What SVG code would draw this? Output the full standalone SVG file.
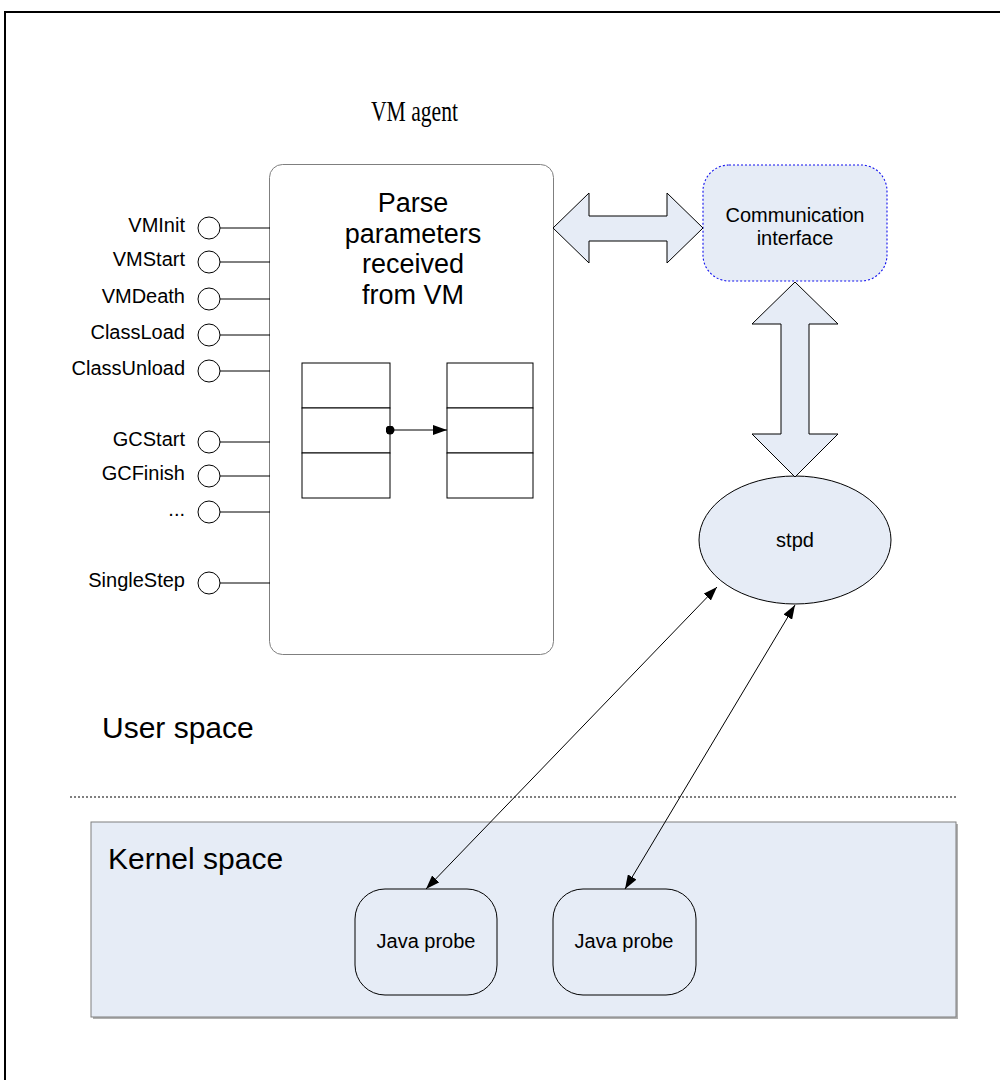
<svg xmlns="http://www.w3.org/2000/svg" width="1000" height="1080" viewBox="0 0 1000 1080">
<style>
.sans{font-family:"Liberation Sans",Arial,sans-serif;fill:#000}
.lbl{font-size:20px;text-anchor:end}
.c{text-anchor:middle}
.big{font-size:30px}
.mid{font-size:27px}
.sm{font-size:20px}
.port{fill:#fff;stroke:#000;stroke-width:1}
.wire{stroke:#000;stroke-width:1;fill:none}
.blue{fill:#E6ECF6}
.cell{fill:#fff;stroke:#000;stroke-width:1}
</style>
<defs>
<marker id="ah" viewBox="0 0 14 10" refX="14" refY="5" markerWidth="14" markerHeight="10" markerUnits="userSpaceOnUse" orient="auto-start-reverse">
<path d="M0,0 L14,5 L0,10 Z" fill="#000"/>
</marker>
<marker id="dot" viewBox="0 0 10 10" refX="5" refY="5" markerWidth="9" markerHeight="9" markerUnits="userSpaceOnUse">
<circle cx="5" cy="5" r="5" fill="#000"/>
</marker>
</defs>
<rect x="0" y="0" width="1000" height="1080" fill="#fff"/>
<rect x="5" y="12" width="1010" height="1090" fill="none" stroke="#000" stroke-width="2"/>

<text x="371" y="121" font-family="'Liberation Serif','Times New Roman',serif" font-size="29" textLength="87" lengthAdjust="spacingAndGlyphs">VM agent</text>

<g id="kernel-space">
<rect x="93" y="824" width="865" height="195" fill="#b0b0b0"/>
<rect x="91" y="822" width="865" height="195" class="blue" stroke="#7f7f7f" stroke-width="1"/>
<text x="108" y="869" class="sans big">Kernel space</text>
</g>

<text x="102" y="738" class="sans big">User space</text>
<line x1="70" y1="797" x2="956" y2="797" stroke="#000" stroke-width="1" stroke-dasharray="2,2"/>

<g id="vm-agent">
<rect x="269.5" y="164.5" width="284" height="490" rx="13" fill="#fff" stroke="#7f7f7f" stroke-width="1"/>
<text class="sans mid c" x="413"><tspan x="413" y="212">Parse</tspan><tspan x="413" y="243">parameters</tspan><tspan x="413" y="273">received</tspan><tspan x="413" y="304">from VM</tspan></text>
</g>

<g id="table-left">
<rect class="cell" x="302" y="363" width="88" height="45"/>
<rect class="cell" x="302" y="408" width="88" height="45"/>
<rect class="cell" x="302" y="453" width="88" height="45"/>
</g>
<g id="table-right">
<rect class="cell" x="447" y="363" width="86" height="45"/>
<rect class="cell" x="447" y="408" width="86" height="45"/>
<rect class="cell" x="447" y="453" width="86" height="45"/>
</g>

<g id="ports">
<g id="p-vminit"><text class="sans lbl" x="185" y="232">VMInit</text><circle class="port" cx="209" cy="228" r="11"/></g>
<g id="p-vmstart"><text class="sans lbl" x="185" y="266">VMStart</text><circle class="port" cx="209" cy="262" r="11"/></g>
<g id="p-vmdeath"><text class="sans lbl" x="185" y="303">VMDeath</text><circle class="port" cx="209" cy="299" r="11"/></g>
<g id="p-classload"><text class="sans lbl" x="185" y="339">ClassLoad</text><circle class="port" cx="209" cy="335" r="11"/></g>
<g id="p-classunload"><text class="sans lbl" x="185" y="375">ClassUnload</text><circle class="port" cx="209" cy="371" r="11"/></g>
<g id="p-gcstart"><text class="sans lbl" x="185" y="446">GCStart</text><circle class="port" cx="209" cy="442" r="11"/></g>
<g id="p-gcfinish"><text class="sans lbl" x="185" y="480">GCFinish</text><circle class="port" cx="209" cy="476" r="11"/></g>
<g id="p-more"><text class="sans lbl" x="185" y="516">...</text><circle class="port" cx="209" cy="512" r="11"/></g>
<g id="p-singlestep"><text class="sans lbl" x="185" y="587">SingleStep</text><circle class="port" cx="209" cy="583" r="11"/></g>
</g>

<g id="comm-interface">
<rect x="703" y="165" width="184" height="116" rx="26" class="blue" stroke="#1010ee" stroke-width="1.1" stroke-dasharray="2,2"/>
<text class="sans sm c"><tspan x="795" y="222">Communication</tspan><tspan x="795" y="245">interface</tspan></text>
</g>

<g id="stpd">
<ellipse cx="795" cy="540" rx="96" ry="64" class="blue" stroke="#000" stroke-width="1"/>
<text class="sans sm c" x="795" y="547">stpd</text>
</g>

<g id="probe1">
<rect x="355" y="889" width="142" height="106" rx="30" class="blue" stroke="#000" stroke-width="1"/>
<text class="sans sm c" x="426" y="948">Java probe</text>
</g>
<g id="probe2">
<rect x="553" y="889" width="143" height="106" rx="30" class="blue" stroke="#000" stroke-width="1"/>
<text class="sans sm c" x="624" y="948">Java probe</text>
</g>

<g id="connectors">
<line class="wire" x1="220" y1="228" x2="270" y2="228"/>
<line class="wire" x1="220" y1="262" x2="270" y2="262"/>
<line class="wire" x1="220" y1="299" x2="270" y2="299"/>
<line class="wire" x1="220" y1="335" x2="270" y2="335"/>
<line class="wire" x1="220" y1="371" x2="270" y2="371"/>
<line class="wire" x1="220" y1="442" x2="270" y2="442"/>
<line class="wire" x1="220" y1="476" x2="270" y2="476"/>
<line class="wire" x1="220" y1="512" x2="270" y2="512"/>
<line class="wire" x1="220" y1="583" x2="270" y2="583"/>
<line class="wire" x1="390" y1="430" x2="447" y2="430" marker-start="url(#dot)" marker-end="url(#ah)"/>
<polygon points="553,228 589,193 589,216 667,216 667,193 703,228 667,263 667,241 589,241 589,263" class="blue" stroke="#000" stroke-width="1"/>
<polygon points="795,282 838,324 809,324 809,434 838,434 795,477 752,434 781,434 781,324 752,324" class="blue" stroke="#000" stroke-width="1"/>
<line class="wire" x1="426" y1="889" x2="717" y2="587" marker-start="url(#ah)" marker-end="url(#ah)"/>
<line class="wire" x1="625" y1="889" x2="795" y2="605" marker-start="url(#ah)" marker-end="url(#ah)"/>
</g>
</svg>
